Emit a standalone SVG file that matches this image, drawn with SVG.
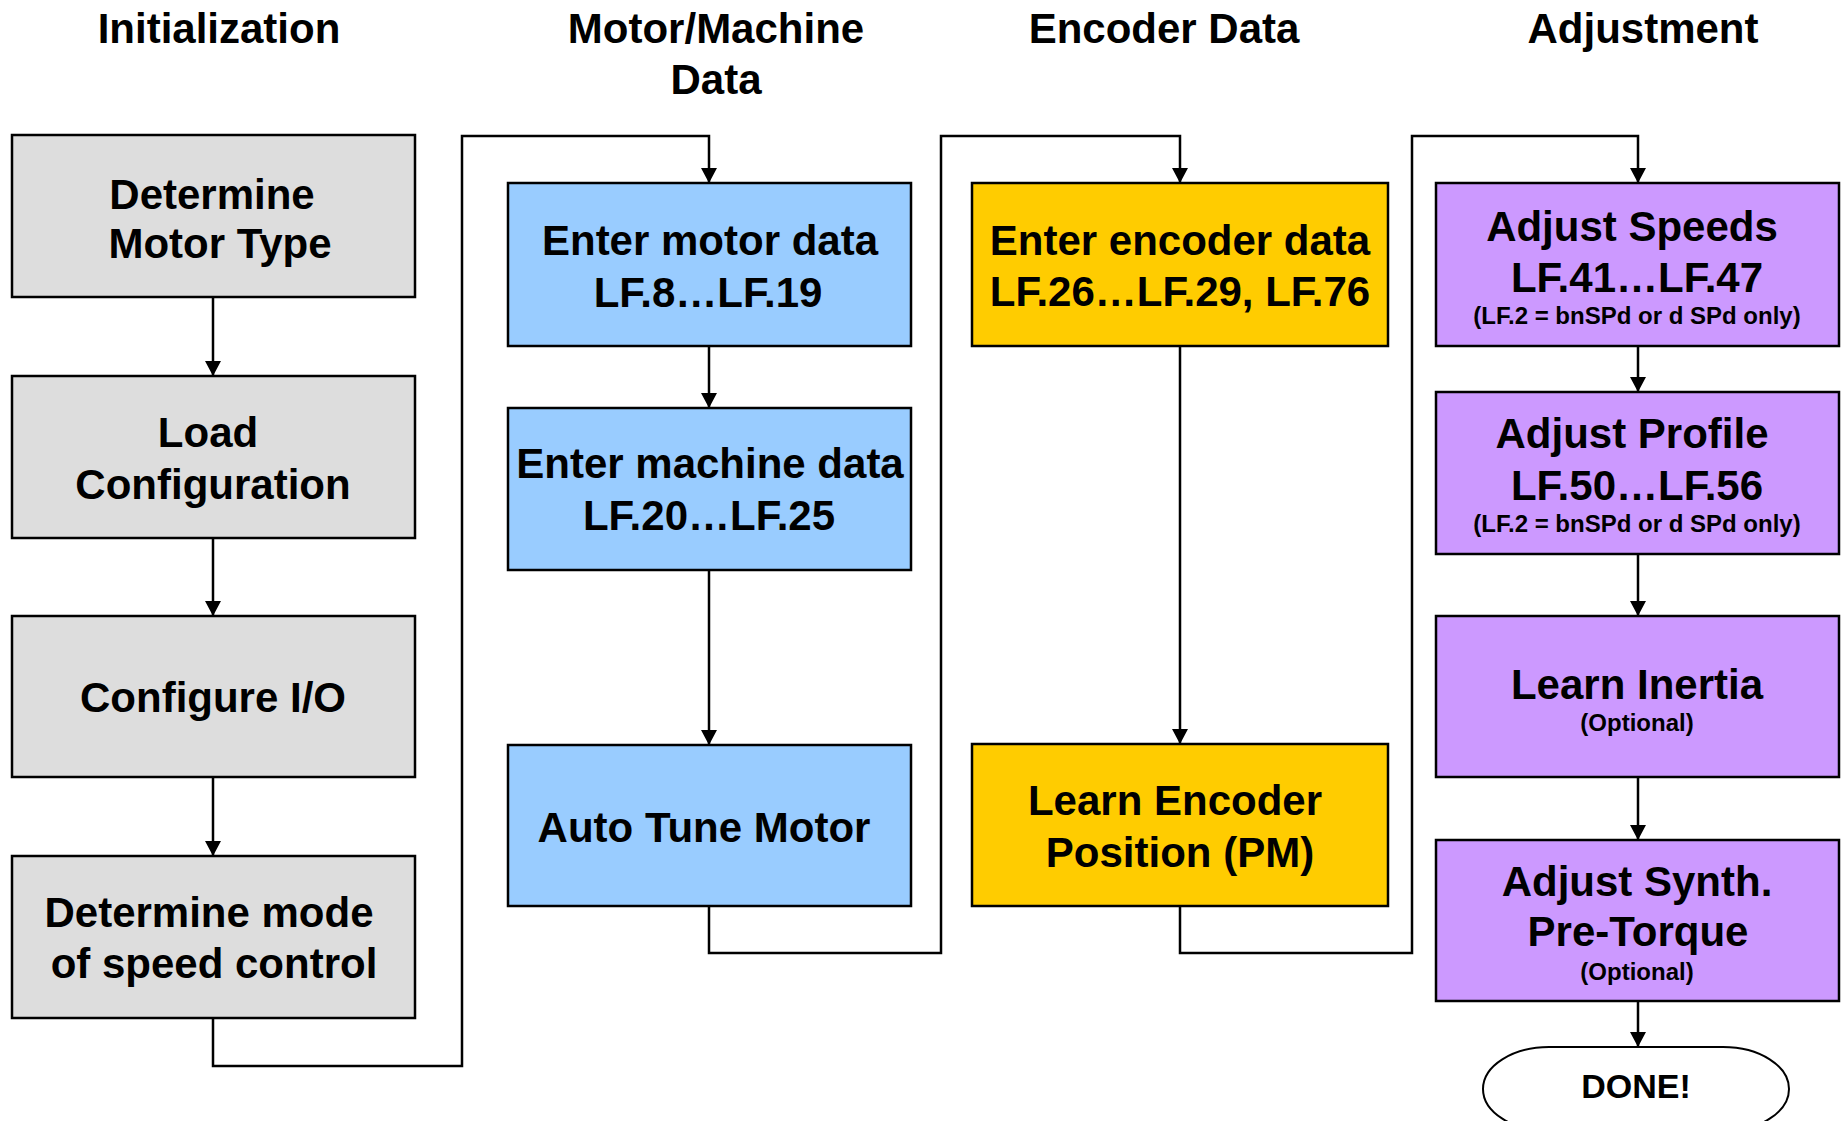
<svg xmlns="http://www.w3.org/2000/svg" width="1847" height="1121" viewBox="0 0 1847 1121">
  <defs>
    <marker id="arrow" markerWidth="16" markerHeight="16" refX="15" refY="8" orient="auto" markerUnits="userSpaceOnUse">
      <path d="M0,0 L15,8 L0,16 Z" fill="#000"/>
    </marker>
  </defs>
  <style>
    text { font-family: "Liberation Sans", Arial, Helvetica, sans-serif; font-weight: bold; fill: #000; text-anchor: middle; }
    .hdr { font-size: 42px; }
    .big { font-size: 42px; }
    .small { font-size: 24px; }
    .done { font-size: 34px; }
    .box { stroke: #000; stroke-width: 2.5; }
    .init { fill: #DDDDDD; }
    .motor { fill: #99CCFF; }
    .enc { fill: #FFCC00; }
    .adj { fill: #CC99FF; }
    .conn { fill: none; stroke: #000; stroke-width: 2.5; }
  </style>
  <rect width="1847" height="1121" fill="#fff"/>

  <!-- column headings -->
  <g id="headers">
    <text class="hdr" x="219" y="43">Initialization</text>
    <text class="hdr" x="716" y="43">Motor/Machine</text>
    <text class="hdr" x="716" y="94">Data</text>
    <text class="hdr" x="1164" y="43">Encoder Data</text>
    <text class="hdr" x="1643" y="43">Adjustment</text>
  </g>

  <!-- connectors -->
  <g id="connectors">
    <path class="conn" marker-end="url(#arrow)" d="M213,297 V376"/>
    <path class="conn" marker-end="url(#arrow)" d="M213,538 V616"/>
    <path class="conn" marker-end="url(#arrow)" d="M213,777 V856"/>
    <path class="conn" marker-end="url(#arrow)" d="M213,1018 V1066 H462 V136 H709 V183"/>
    <path class="conn" marker-end="url(#arrow)" d="M709,346 V408"/>
    <path class="conn" marker-end="url(#arrow)" d="M709,570 V745"/>
    <path class="conn" marker-end="url(#arrow)" d="M709,906 V953 H941 V136 H1180 V183"/>
    <path class="conn" marker-end="url(#arrow)" d="M1180,346 V744"/>
    <path class="conn" marker-end="url(#arrow)" d="M1180,906 V953 H1412 V136 H1638 V183"/>
    <path class="conn" marker-end="url(#arrow)" d="M1638,346 V392"/>
    <path class="conn" marker-end="url(#arrow)" d="M1638,554 V616"/>
    <path class="conn" marker-end="url(#arrow)" d="M1638,777 V840"/>
    <path class="conn" marker-end="url(#arrow)" d="M1638,1001 V1047"/>
  </g>

  <!-- Initialization -->
  <g id="determine-motor-type">
    <rect class="box init" x="12" y="135" width="403" height="162"/>
    <text class="big" x="212" y="209">Determine</text>
    <text class="big" x="220" y="258">Motor Type</text>
  </g>
  <g id="load-configuration">
    <rect class="box init" x="12" y="376" width="403" height="162"/>
    <text class="big" x="208" y="447">Load</text>
    <text class="big" x="213" y="499">Configuration</text>
  </g>
  <g id="configure-io">
    <rect class="box init" x="12" y="616" width="403" height="161"/>
    <text class="big" x="213" y="712">Configure I/O</text>
  </g>
  <g id="determine-mode">
    <rect class="box init" x="12" y="856" width="403" height="162"/>
    <text class="big" x="209" y="927">Determine mode</text>
    <text class="big" x="214" y="978">of speed control</text>
  </g>

  <!-- Motor/Machine data -->
  <g id="enter-motor-data">
    <rect class="box motor" x="508" y="183" width="403" height="163"/>
    <text class="big" x="710" y="255">Enter motor data</text>
    <text class="big" x="708" y="307">LF.8…LF.19</text>
  </g>
  <g id="enter-machine-data">
    <rect class="box motor" x="508" y="408" width="403" height="162"/>
    <text class="big" x="710" y="478">Enter machine data</text>
    <text class="big" x="709" y="530">LF.20…LF.25</text>
  </g>
  <g id="auto-tune-motor">
    <rect class="box motor" x="508" y="745" width="403" height="161"/>
    <text class="big" x="704" y="842">Auto Tune Motor</text>
  </g>

  <!-- Encoder data -->
  <g id="enter-encoder-data">
    <rect class="box enc" x="972" y="183" width="416" height="163"/>
    <text class="big" x="1180" y="255">Enter encoder data</text>
    <text class="big" x="1180" y="306">LF.26…LF.29, LF.76</text>
  </g>
  <g id="learn-encoder-position">
    <rect class="box enc" x="972" y="744" width="416" height="162"/>
    <text class="big" x="1175" y="815">Learn Encoder</text>
    <text class="big" x="1180" y="867">Position (PM)</text>
  </g>

  <!-- Adjustment -->
  <g id="adjust-speeds">
    <rect class="box adj" x="1436" y="183" width="403" height="163"/>
    <text class="big" x="1632" y="241">Adjust Speeds</text>
    <text class="big" x="1637" y="292">LF.41…LF.47</text>
    <text class="small" x="1637" y="324">(LF.2 = bnSPd or d SPd only)</text>
  </g>
  <g id="adjust-profile">
    <rect class="box adj" x="1436" y="392" width="403" height="162"/>
    <text class="big" x="1632" y="448">Adjust Profile</text>
    <text class="big" x="1637" y="500">LF.50…LF.56</text>
    <text class="small" x="1637" y="532">(LF.2 = bnSPd or d SPd only)</text>
  </g>
  <g id="learn-inertia">
    <rect class="box adj" x="1436" y="616" width="403" height="161"/>
    <text class="big" x="1637" y="699">Learn Inertia</text>
    <text class="small" x="1637" y="731">(Optional)</text>
  </g>
  <g id="adjust-synth-pre-torque">
    <rect class="box adj" x="1436" y="840" width="403" height="161"/>
    <text class="big" x="1637" y="896">Adjust Synth.</text>
    <text class="big" x="1638" y="946">Pre-Torque</text>
    <text class="small" x="1637" y="980">(Optional)</text>
  </g>
  <g id="done">
    <rect x="1483" y="1047" width="306" height="84" rx="66" ry="42" fill="#fff" stroke="#000" stroke-width="2"/>
    <text class="done" x="1636" y="1098">DONE!</text>
  </g>
</svg>
